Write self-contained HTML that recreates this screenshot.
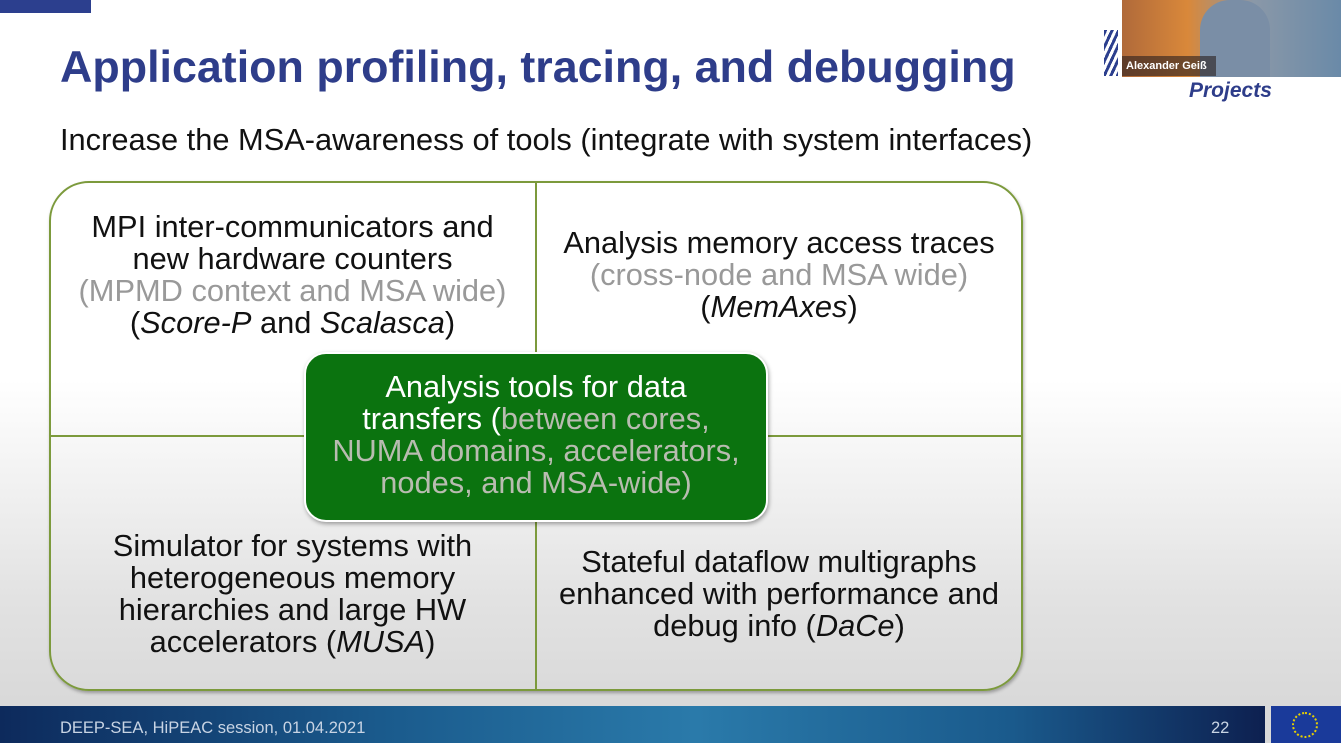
<!DOCTYPE html><html><head><style>
body{margin:0;width:1341px;height:743px;overflow:hidden;position:relative;font-family:"Liberation Sans",sans-serif;background:linear-gradient(#fff 0,#fff 380px,#e2e2e2 600px,#d9d9d9 700px)}
.a{position:absolute}
.t{text-align:center;font-size:30.8px;line-height:32px;color:#111;position:absolute;white-space:nowrap}
.g{color:#999}
</style></head><body>
<div class="a" style="left:0;top:0;width:91px;height:13px;background:#2c3f8e"></div>
<div class="a" style="left:60px;top:42px;font-size:44.8px;font-weight:bold;color:#2e3d8a;white-space:nowrap">Application profiling, tracing, and debugging</div>
<div class="a" style="left:60px;top:122px;font-size:30.8px;color:#111;white-space:nowrap">Increase the MSA-awareness of tools (integrate with system interfaces)</div>
<div class="a" style="left:1122px;top:0;width:219px;height:77px;background:linear-gradient(90deg,#b06a3a,#d9883a 30%,#8a98a8 60%,#6a8aa8)"></div>
<div class="a" style="left:1200px;top:0;width:70px;height:77px;background:#7a8ea6;border-radius:30px 30px 0 0"></div>
<div class="a" style="left:1122px;top:56px;width:90px;height:20px;background:rgba(40,30,30,.6);color:#fff;font-size:11px;font-weight:bold;line-height:20px;padding-left:4px">Alexander Geiß</div>
<div class="a" style="left:1104px;top:30px;width:14px;height:46px;background:repeating-linear-gradient(115deg,#2c3f8e 0 3px,#fff 3px 6px)"></div>
<div class="a" style="left:1189px;top:79px;font-size:21px;font-weight:bold;font-style:italic;color:#2e3d8a">Projects</div>
<div class="a" style="left:49px;top:181px;width:970px;height:506px;border:2px solid #7c9a3c;border-radius:40px;box-shadow:1px 2px 3px rgba(0,0,0,.3)"></div>
<div class="a" style="left:535px;top:183px;width:2px;height:506px;background:#7c9a3c"></div>
<div class="a" style="left:51px;top:435px;width:970px;height:2px;background:#7c9a3c"></div>
<div class="t" style="left:60px;top:211px;width:465px">MPI inter-communicators and<br>new hardware counters<br><span class="g">(MPMD context and MSA wide)</span><br>(<i>Score-P</i> and <i>Scalasca</i>)</div>
<div class="t" style="left:545px;top:227px;width:468px">Analysis memory access traces<br><span class="g">(cross-node and MSA wide)</span><br>(<i>MemAxes</i>)</div>
<div class="t" style="left:60px;top:530px;width:465px">Simulator for systems with<br>heterogeneous memory<br>hierarchies and large HW<br>accelerators (<i>MUSA</i>)</div>
<div class="t" style="left:545px;top:546px;width:468px">Stateful dataflow multigraphs<br>enhanced with performance and<br>debug info (<i>DaCe</i>)</div>
<div class="a" style="left:304px;top:352px;width:460px;height:166px;background:#0b730f;border:2px solid #fff;border-radius:22px;box-shadow:1px 2px 4px rgba(0,0,0,.35)"></div>
<div class="t" style="left:306px;top:371px;width:460px;color:#fff">Analysis tools for data<br>transfers (<span style="color:#b8bcb0">between cores,<br>NUMA domains, accelerators,<br>nodes, and MSA-wide)</span></div>
<div class="a" style="left:0;top:706px;width:1265px;height:37px;background:linear-gradient(90deg,#0d2a5c,#1a5a8c 30%,#2a7aaa 55%,#1a5a8c 80%,#0d2050)"></div>
<div class="a" style="left:60px;top:719px;font-size:16.5px;color:#c8d4e4;white-space:nowrap">DEEP-SEA, HiPEAC session, 01.04.2021</div>
<div class="a" style="left:1211px;top:719px;font-size:16.5px;color:#c8d4e4">22</div>
<div class="a" style="left:1271px;top:706px;width:70px;height:37px;background:#1a3a9a"></div>
<div class="a" style="left:1292px;top:712px;width:26px;height:26px;border:2px dotted #e8d000;border-radius:50%;box-sizing:border-box"></div>
</body></html>
